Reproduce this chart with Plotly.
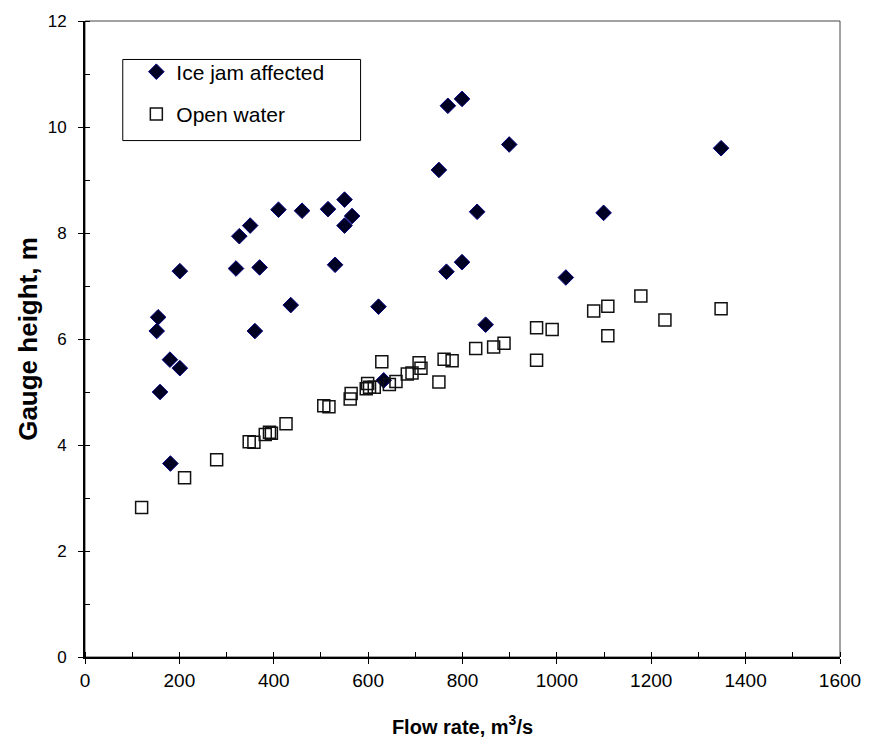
import plotly.graph_objects as go

# Ice jam affected (flow rate m3/s, gauge height m)
ice_x = [155, 152, 159, 180, 201, 181, 201, 320, 370, 327, 350, 410, 460, 515, 550, 550, 566,
         530, 436, 360, 622, 633, 750, 769, 799, 899, 831, 766, 799, 849, 1019, 1099, 1348]
ice_y = [6.41, 6.15, 5.00, 5.61, 5.45, 3.65, 7.28, 7.33, 7.35, 7.94, 8.14, 8.44, 8.42, 8.45, 8.63, 8.14, 8.32,
         7.40, 6.64, 6.15, 6.61, 5.22, 9.19, 10.40, 10.53, 9.67, 8.40, 7.27, 7.45, 6.27, 7.16, 8.38, 9.60]

# Open water
open_x = [120, 211, 279, 348, 358, 382, 391, 395, 426, 506, 517, 562, 564, 599, 596, 603, 613,
          629, 645, 659, 683, 693, 708, 712, 750, 761, 778, 828, 866, 888, 957, 990, 957,
          1078, 1108, 1108, 1178, 1229, 1348]
open_y = [2.82, 3.38, 3.72, 4.06, 4.05, 4.20, 4.24, 4.22, 4.40, 4.74, 4.72, 4.87, 4.97, 5.16, 5.06, 5.09, 5.09,
          5.57, 5.14, 5.20, 5.34, 5.36, 5.55, 5.45, 5.19, 5.62, 5.59, 5.82, 5.85, 5.92, 6.21, 6.18, 5.60,
          6.53, 6.62, 6.06, 6.81, 6.36, 6.57]

x_ticks = [0, 200, 400, 600, 800, 1000, 1200, 1400, 1600]
y_ticks = [0, 2, 4, 6, 8, 10, 12]

FONT = "Liberation Sans, Arial, sans-serif"

fig = go.Figure()
fig.add_trace(go.Scatter(
    x=ice_x, y=ice_y, mode="markers", name="Ice jam affected", legendgroup="a",
    marker=dict(symbol="diamond", size=12, color="#000022",
                line=dict(color="#000080", width=1))))
fig.add_trace(go.Scatter(
    x=open_x, y=open_y, mode="markers", name="Open water", legendgroup="b",
    marker=dict(symbol="square-open", size=12, color="#111111",
                line=dict(width=1.5))))

# plot frame (top / right)
fig.add_shape(type="rect", xref="paper", yref="paper", x0=0, x1=1, y0=0, y1=1,
              line=dict(color="#444444", width=1), layer="below")
# legend box
fig.add_shape(type="rect", xref="paper", yref="paper",
              x0=0.050, x1=0.365, y0=0.812, y1=0.9395,
              line=dict(color="black", width=1), fillcolor="white", layer="below")

axis_common = dict(showgrid=False, zeroline=False, showline=True, linecolor="black", linewidth=2,
                   ticks="outside", ticklen=5, tickwidth=1, tickcolor="black")

fig.update_xaxes(range=[0, 1600], tickvals=x_ticks, ticktext=[str(v) for v in x_ticks],
                 tickfont=dict(family=FONT, size=19, color="black"),
                 minor=dict(dtick=100, ticks="inside", ticklen=5, tickcolor="black", tickwidth=1),
                 title=dict(text="<b>Flow rate, m<sup>3</sup>/s</b>",
                            font=dict(family=FONT, size=20, color="black"), standoff=30),
                 **axis_common)
fig.update_yaxes(range=[0, 12], tickvals=y_ticks, ticktext=[str(v) for v in y_ticks],
                 tickfont=dict(family=FONT, size=17, color="black"),
                 ticklabelstandoff=8,
                 minor=dict(dtick=1, ticks="inside", ticklen=5, tickcolor="black", tickwidth=1),
                 title=dict(text="<b>Gauge height, m</b>",
                            font=dict(family=FONT, size=26, color="black"), standoff=3),
                 **axis_common)

fig.update_layout(
    width=873, height=747,
    margin=dict(l=85, r=29, t=13, b=89),
    paper_bgcolor="white", plot_bgcolor="white",
    showlegend=True,
    legend=dict(x=0.068, y=0.952, xanchor="left", yanchor="top",
                bgcolor="rgba(0,0,0,0)", borderwidth=0,
                font=dict(family=FONT, size=21, color="black"),
                tracegroupgap=12, itemwidth=30),
    font=dict(family=FONT),
)

fig.write_html("out.html")
